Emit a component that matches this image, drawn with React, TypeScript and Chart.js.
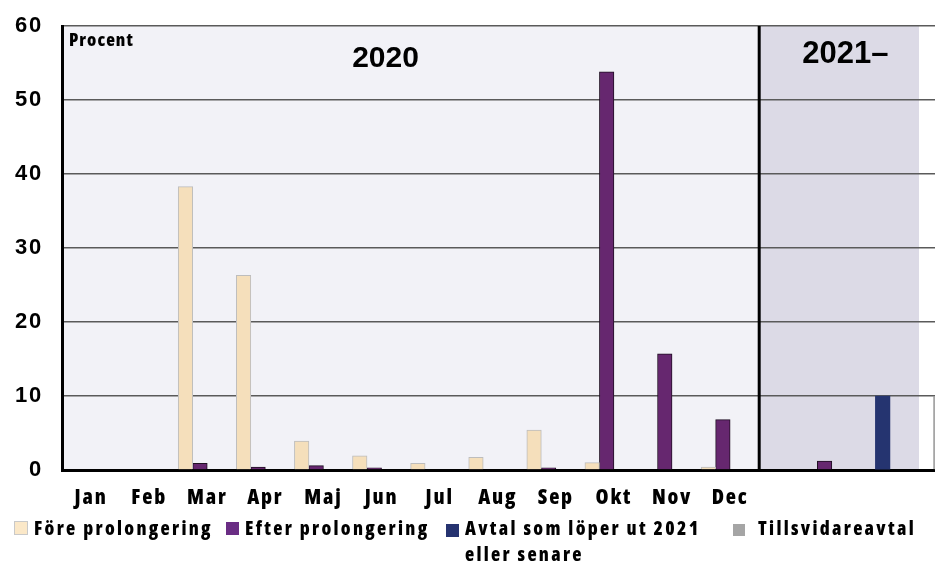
import React, { useEffect, useRef } from 'react';
import { Chart, registerables } from 'chart.js';

Chart.register(...registerables);

// ---- data ----
const months = ['Jan', 'Feb', 'Mar', 'Apr', 'Maj', 'Jun', 'Jul', 'Aug', 'Sep', 'Okt', 'Nov', 'Dec'];
const categories = [...months, '', '', '', ''];
const foreValues = [0, 0, 38.3, 26.3, 3.9, 1.9, 0.9, 1.7, 5.4, 1.0, 0, 0.4, null, null, null, null];
const efterValues = [0, 0, 0.9, 0.4, 0.6, 0.3, 0, 0, 0.3, 53.8, 15.7, 6.8, null, null, null, null];
const efter2021Values = [null, null, null, null, null, null, null, null, null, null, null, null, null, 1.2, null, null];
const avtalValues = [null, null, null, null, null, null, null, null, null, null, null, null, null, null, 10, null];
const tillsvidareValues = [null, null, null, null, null, null, null, null, null, null, null, null, null, null, null, 10];
const emptyValues = categories.map(() => null);
const yTicks = [0, 10, 20, 30, 40, 50, 60];
const periodLabels = ['2020', '2021–'];
const unitLabel = 'Procent';
const legendLabels = ['Före prolongering', 'Efter prolongering', 'Avtal som löper ut 2021', 'eller senare', 'Tillsvidareavtal'];

const SPLIT_INDEX = 12;

const COND = "'Open Sans', 'Liberation Sans', Arial, sans-serif";
const SANS = "'Liberation Sans', Arial, sans-serif";

const COLORS = {
  fore: '#f5dfbb', foreBorder: '#bdbdbd', efter: '#66276f', efterBorder: '#1f0f22',
  avtal: '#253470', tills: '#a6a6a6', bgMain: '#f2f2f7', bgShade: '#dcdae6',
};

const decorPlugin = {
  id: 'decor',
  beforeDraw(chart: any) {
    const { ctx, chartArea: a, scales } = chart;
    const x = scales.x;
    const w = x.getPixelForValue(1) - x.getPixelForValue(0);
    const split = x.getPixelForValue(SPLIT_INDEX) - w / 2;
    const shadeEnd = x.getPixelForValue(14) + w / 4;
    ctx.save();
    ctx.fillStyle = COLORS.bgMain;
    ctx.fillRect(a.left, a.top, split - a.left, a.bottom - a.top);
    ctx.fillStyle = COLORS.bgShade;
    ctx.fillRect(split, a.top, shadeEnd - split, a.bottom - a.top);
    ctx.restore();
    try { ctx.letterSpacing = '1.8px'; } catch (e) {}
  },
  beforeDatasetsDraw(chart: any) {
    const { ctx, chartArea: a, scales } = chart;
    const x = scales.x;
    const w = x.getPixelForValue(1) - x.getPixelForValue(0);
    const split = x.getPixelForValue(SPLIT_INDEX) - w / 2;
    ctx.save();
    ctx.strokeStyle = '#000';
    ctx.lineWidth = 3;
    ctx.beginPath();
    ctx.moveTo(split, a.top);
    ctx.lineTo(split, a.bottom);
    ctx.stroke();
    ctx.restore();
  },
  afterDraw(chart: any) {
    const { ctx, chartArea: a, scales } = chart;
    const x = scales.x;
    ctx.save();
    ctx.fillStyle = '#000';
    ctx.textBaseline = 'alphabetic';
    ctx.font = `800 condensed 18px ${COND}`;
    ctx.textAlign = 'left';
    try { ctx.letterSpacing = '1px'; } catch (e) {}
    ctx.fillText(unitLabel, a.left + 7, a.top + 20);
    try { ctx.letterSpacing = '0px'; } catch (e) {}
    ctx.font = `bold 30px ${SANS}`;
    ctx.textAlign = 'center';
    ctx.fillText(periodLabels[0], x.getPixelForValue(5) + 4, a.top + 41);
    ctx.font = `bold 31px ${SANS}`;
    ctx.fillText(periodLabels[1], x.getPixelForValue(13) - 1, a.top + 37);
    ctx.restore();
  },
};

export default function App() {
  const ref = useRef<HTMLCanvasElement | null>(null);

  useEffect(() => {
    if (!ref.current) return;
    const chart = new Chart(ref.current, {
      type: 'bar',
      data: {
        labels: categories,
        datasets: [
          { label: legendLabels[0], data: foreValues, stack: 's1', backgroundColor: COLORS.fore, borderColor: COLORS.foreBorder, borderWidth: 1 },
          { label: legendLabels[1], data: efterValues, stack: 's2', backgroundColor: COLORS.efter, borderColor: COLORS.efterBorder, borderWidth: 1 },
          { label: 'slot3', data: emptyValues, stack: 's3' },
          { label: 'slot4', data: emptyValues, stack: 's4' },
          { label: legendLabels[1] + ' 2021', data: efter2021Values, stack: 's1', backgroundColor: COLORS.efter, borderColor: COLORS.efterBorder, borderWidth: 1 },
          { label: legendLabels[2], data: avtalValues, stack: 's1', backgroundColor: COLORS.avtal, borderWidth: 0 },
          { label: legendLabels[4], data: tillsvidareValues, stack: 's1', backgroundColor: COLORS.tills, borderColor: '#999', borderWidth: 1 },
        ] as any,
      },
      options: {
        responsive: false,
        animation: false,
        devicePixelRatio: 1,
        layout: { padding: { top: 26, right: 8.4, left: 0, bottom: 0 } },
        datasets: { bar: { barPercentage: 1, categoryPercentage: 1 } } as any,
        plugins: { legend: { display: false }, tooltip: { enabled: false } },
        scales: {
          x: {
            type: 'category',
            offset: true,
            grid: { display: false, drawTicks: false },
            border: { display: true, color: '#000', width: 3 },
            ticks: { color: '#000', font: { family: COND, weight: '800 condensed', size: 21 }, padding: 15, maxRotation: 0, autoSkip: false },
            afterFit: (s: any) => { s.height = 97; s.paddingLeft = 0; s.paddingRight = 0; },
          },
          y: {
            min: yTicks[0],
            max: yTicks[yTicks.length - 1],
            stacked: false,
            grid: { color: '#5a5a5a', lineWidth: 1.5, drawTicks: false },
            border: { display: true, color: '#000', width: 3 },
            ticks: { stepSize: yTicks[1] - yTicks[0], color: '#000', font: { family: SANS, weight: 'bold', size: 22 }, padding: 19 },
            afterFit: (s: any) => { s.width = 62; s.paddingTop = 0; s.paddingBottom = 0; },
          },
        },
      },
      plugins: [decorPlugin],
    } as any);
    return () => chart.destroy();
  }, []);

  const legendText: React.CSSProperties = {
    position: 'absolute', top: 515, fontFamily: COND, fontWeight: 800, fontStretch: 'condensed',
    fontSize: 19, lineHeight: '26px', letterSpacing: '2.3px', color: '#000', whiteSpace: 'nowrap',
  };
  const sq = (left: number, top: number, size: number, bg: string, border?: string): React.CSSProperties => ({
    position: 'absolute', left, top, width: size, height: size, background: bg,
    boxSizing: 'border-box', border: border ? `1px solid ${border}` : 'none',
  });

  return (
    <div style={{ position: 'fixed', left: 0, top: 0, width: 935, height: 567, overflow: 'hidden', background: '#fff' }}>
      <canvas ref={ref} width={1000} height={567} style={{ position: 'absolute', left: 0, top: 0, width: 1000, height: 567 }} />
      <div style={sq(14, 521, 14, '#fbe8c8', '#c9c9c9')} />
      <div style={{ ...legendText, left: 34 }}>{legendLabels[0]}</div>
      <div style={sq(226, 522, 13, '#6a2d84')} />
      <div style={{ ...legendText, left: 245 }}>{legendLabels[1]}</div>
      <div style={sq(446, 524, 13, '#263370')} />
      <div style={{ ...legendText, left: 465 }}>{legendLabels[2]}<br />{legendLabels[3]}</div>
      <div style={sq(733, 524, 12, '#a5a5a5')} />
      <div style={{ ...legendText, left: 758 }}>{legendLabels[4]}</div>
    </div>
  );
}
